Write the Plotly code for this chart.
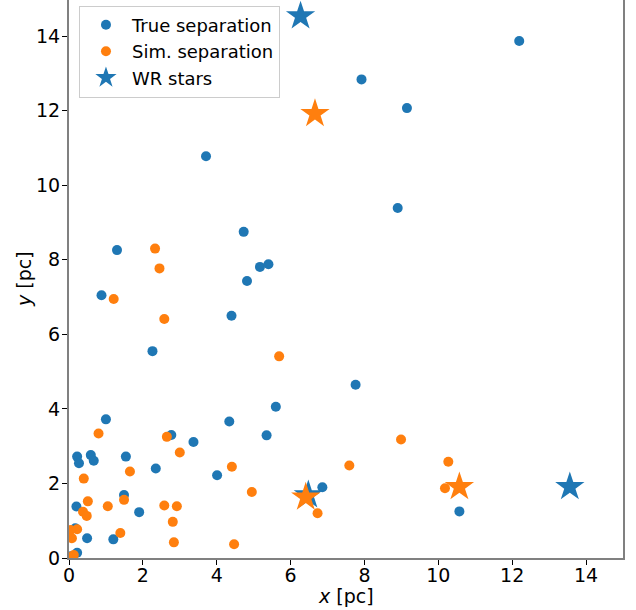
import plotly.graph_objects as go

# True separation positions (pc)
true_x = [12.19, 7.92, 9.15, 8.90, 3.71, 4.73, 1.30, 0.88, 4.82, 5.17, 5.40, 4.40,
          2.26, 7.76, 5.60, 1.00, 4.34, 2.77, 3.37, 5.35, 0.22, 0.27, 0.59, 0.67,
          1.54, 2.35, 4.01, 1.49, 0.20, 1.90, 0.49, 1.20, 0.17, 0.22, 0.05, 6.86, 10.57]
true_y = [13.87, 12.84, 12.07, 9.39, 10.78, 8.75, 8.26, 7.05, 7.43, 7.81, 7.88, 6.50,
          5.55, 4.65, 4.06, 3.72, 3.66, 3.30, 3.11, 3.29, 2.72, 2.54, 2.76, 2.61,
          2.72, 2.40, 2.22, 1.69, 1.38, 1.23, 0.53, 0.50, 0.80, 0.14, 0.05, 1.90, 1.25]

# Simulated separation positions (pc)
sim_x = [2.33, 2.45, 1.21, 2.58, 5.69, 0.80, 2.65, 3.00, 1.65, 4.41, 0.40, 0.51,
         1.05, 1.49, 0.38, 0.48, 2.58, 2.92, 2.81, 1.39, 2.84, 4.47, 0.22, 0.04,
         0.08, 0.13, 0.03, 8.99, 7.59, 10.27, 10.18, 4.95, 6.73]
sim_y = [8.30, 7.77, 6.95, 6.41, 5.41, 3.34, 3.25, 2.83, 2.32, 2.45, 2.13, 1.52,
         1.39, 1.56, 1.24, 1.13, 1.41, 1.39, 0.97, 0.67, 0.42, 0.37, 0.77, 0.75,
         0.53, 0.08, 0.02, 3.18, 2.48, 2.58, 1.87, 1.77, 1.20]

# Wolf-Rayet stars: true and simulated positions
wr_true_x = [6.27, 13.56, 6.48]
wr_true_y = [14.54, 1.91, 1.69]
wr_sim_x = [6.66, 10.57, 6.41]
wr_sim_y = [11.92, 1.91, 1.63]

BLUE = "#1f77b4"
ORANGE = "#ff7f0e"
FONT = "DejaVu Sans"
FS = 19

fig = go.Figure()
fig.add_trace(go.Scatter(x=true_x, y=true_y, mode="markers", name="True separation",
                         marker=dict(color=BLUE, size=10, line=dict(width=0))))
fig.add_trace(go.Scatter(x=sim_x, y=sim_y, mode="markers", name="Sim. separation",
                         marker=dict(color=ORANGE, size=10, line=dict(width=0))))
fig.add_trace(go.Scatter(x=wr_true_x, y=wr_true_y, mode="markers", name="WR stars",
                         marker=dict(color=BLUE, size=22, symbol="star", line=dict(width=0))))
fig.add_trace(go.Scatter(x=wr_sim_x, y=wr_sim_y, mode="markers", name="WR stars (sim)",
                         showlegend=False,
                         marker=dict(color=ORANGE, size=22, symbol="star", line=dict(width=0))))

axis_common = dict(
    showgrid=False, zeroline=False,
    showline=True, linecolor="#808080", linewidth=2,
    ticks="outside", ticklen=5, tickwidth=1, tickcolor="black",
    tickvals=[0, 2, 4, 6, 8, 10, 12, 14],
    tickfont=dict(family=FONT, size=FS, color="black"),
)

fig.update_layout(
    width=636, height=610,
    margin=dict(l=69, r=13, t=0, b=52),
    plot_bgcolor="white", paper_bgcolor="white",
    font=dict(family=FONT, size=FS, color="black"),
    xaxis=dict(axis_common, range=[0, 15], mirror=False, ticklabelstandoff=-6),
    yaxis=dict(axis_common, range=[0, 14.97], mirror=True, ticklabelstandoff=-2),
    legend=dict(x=0.018, y=0.99, xanchor="left", yanchor="top",
                bgcolor="white", bordercolor="#cccccc", borderwidth=1,
                font=dict(family=FONT, size=18), tracegroupgap=0,
                itemwidth=42),
    showlegend=True,
    annotations=[
        dict(text="<i>x</i> [pc]", xref="paper", yref="paper", x=0.5, y=0,
             yshift=-38, xanchor="center", yanchor="middle", showarrow=False,
             font=dict(family=FONT, size=FS)),
        dict(text="<i>y</i> [pc]", xref="paper", yref="paper", x=0, y=0.5,
             xshift=-45, xanchor="center", yanchor="middle", textangle=-90,
             showarrow=False, font=dict(family=FONT, size=FS)),
    ],
)

fig.write_html("out.html")
